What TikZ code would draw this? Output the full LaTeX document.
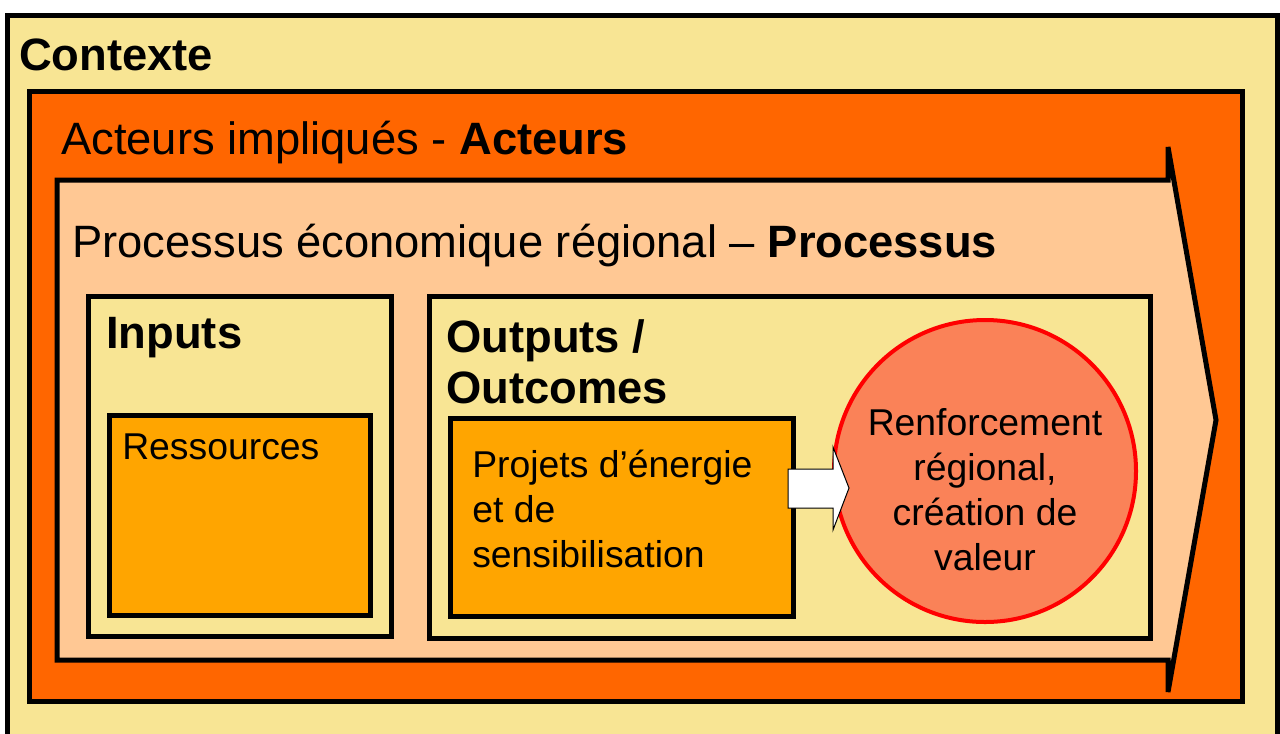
\documentclass[tikz,border=0pt]{standalone}
\usepackage{fontspec}
\setmainfont{Liberation Sans}
\usetikzlibrary{positioning}

\definecolor{ctxyellow}{RGB}{248,229,148}
\definecolor{actorange}{RGB}{255,102,0}
\definecolor{procpeach}{RGB}{255,200,148}
\definecolor{resorange}{RGB}{255,165,0}
\definecolor{valsalmon}{RGB}{250,130,88}

\begin{document}
\begin{tikzpicture}[x=0.75pt,y=-0.75pt]
      \tikzset { frame/.style = { draw,line width=3.75pt,shape=rectangle,anchor=north west,inner sep=0pt,outer sep=0pt } }
      \tikzset { big/.style = { anchor=base west,inner sep=0pt,font=\fontsize{34}{38.25}\selectfont,align=left } }
      \tikzset { bigb/.style = { big,font=\fontsize{34}{38.25}\selectfont\bfseries } }
      \tikzset { small/.style = { anchor=base west,inner sep=0pt,font=\fontsize{28}{33.75}\selectfont,align=left } }

      \clip (0,0) rectangle (1280,733);
      \fill[white] (0,0) rectangle (1280,733);

      \node[frame,fill=ctxyellow,minimum width=952.5pt,minimum height=558.75pt] (ctx) at (7,15) {};
      \node[frame,fill=actorange,minimum width=909.75pt,minimum height=457.5pt] (act) at (29,91) {};
      \draw[line width=3.75pt,fill=procpeach] (57,180) -- (1168,180) -- (1168,147) -- (1216,420)
            -- (1168,692) -- (1168,660) -- (57,660) -- cycle;

      \node[frame,fill=ctxyellow,minimum width=227.25pt,minimum height=255pt] (inp) at (88,296) {};
      \node[frame,fill=resorange,minimum width=195.75pt,minimum height=150pt] (res) at (109,415) {};
      \node[frame,fill=ctxyellow,minimum width=540.75pt,minimum height=256.5pt] (outp) at (429,296) {};
      \node[frame,fill=resorange,minimum width=257.25pt,minimum height=148.5pt] (proj) at (450,418) {};
      \node[shape=circle,draw=red,line width=3pt,fill=valsalmon,minimum size=226.5pt,inner sep=0pt] (val) at (985,471) {};

      \node[bigb] (ctxt) at (19,70) {Contexte};
      \node[big] (actt) at (61,154) {Acteurs impliqués - \textbf{Acteurs}};
      \node[big] (proct) at (72,257) {Processus économique régional – \textbf{Processus}};
      \node[bigb] (inpt) at (106,348) {Inputs};
      \node[bigb] (outpt) at (446,403) {Outputs /\\Outcomes};
      \node[small] (rest) at (122,459) {Ressources};
      \node[small] (projt) at (472,567) {Projets d’énergie\\et de\\sensibilisation};
      \node[small,anchor=base,align=center] (valt) at (985,570) {Renforcement\\régional,\\création de\\valeur};

      \draw[fill=white,line width=0.75pt] (788,469) -- (833,469) -- (833,447) -- (849,488)
            -- (833,530) -- (833,508) -- (788,508) -- cycle;

\end{tikzpicture}
\end{document}
